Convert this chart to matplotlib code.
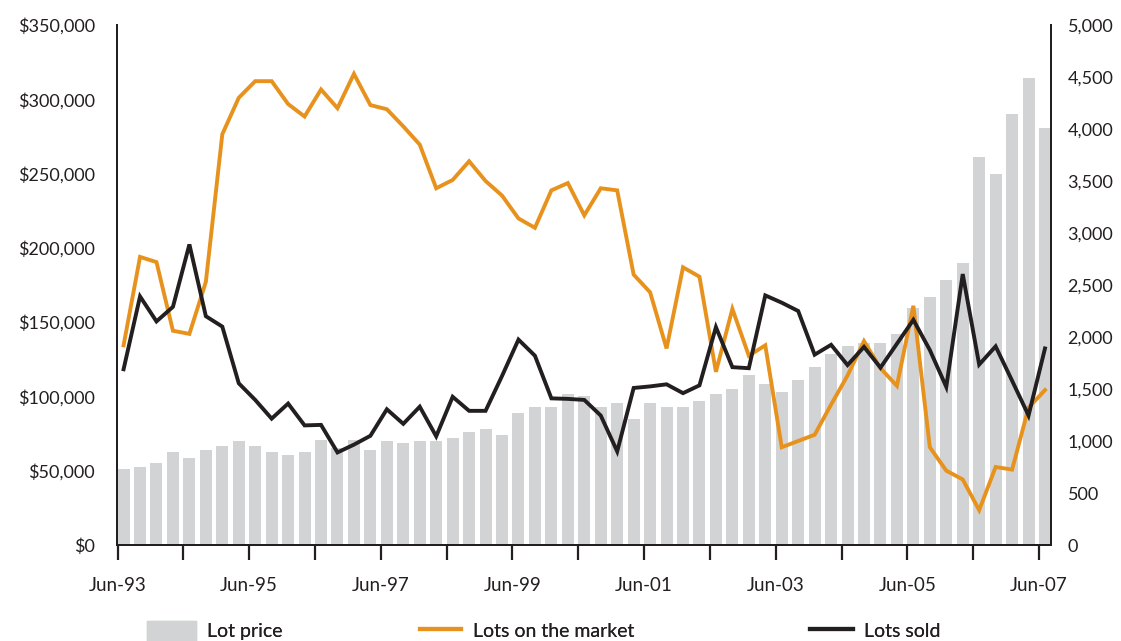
import numpy as np
from matplotlib import pyplot as plt
from matplotlib.patches import Patch
from matplotlib.lines import Line2D

# quarterly series, Jun-93 .. Jun-07 (57 quarters)
lot_price = [51000, 52500, 55000, 62500, 58500, 64000, 66800, 70100, 66800, 62600,
             60700, 62600, 70900, 65300, 70900, 64100, 70100, 68700, 70100, 70100,
             72100, 76200, 78400, 74300, 89000, 93100, 93100, 101400, 100600, 93100,
             95300, 85100, 95300, 93100, 93100, 97200, 101400, 104700, 114200, 108100,
             103300, 110800, 119500, 128400, 133800, 135900, 135900, 142000, 159600, 166900,
             178500, 190100, 261200, 249600, 290300, 314000, 280800]

lots_on_market = [1920, 2770, 2720, 2060, 2030, 2530, 3950, 4300, 4460, 4460,
                  4240, 4120, 4380, 4200, 4530, 4230, 4190, 4025, 3850, 3430,
                  3510, 3690, 3500, 3360, 3140, 3050, 3410, 3480, 3170, 3430,
                  3410, 2600, 2430, 1890, 2670, 2580, 1665, 2270, 1820, 1920,
                  940, 1000, 1060, 1350, 1630, 1960, 1700, 1530, 2300, 940,
                  715, 630, 335, 750, 725, 1320, 1490]

lots_sold = [1690, 2390, 2150, 2290, 2890, 2200, 2100, 1555, 1395, 1215,
             1360, 1150, 1155, 890, 965, 1050, 1305, 1165, 1330, 1045,
             1425, 1290, 1290, 1625, 1975, 1820, 1410, 1405, 1395, 1245,
             900, 1510, 1525, 1545, 1460, 1535, 2095, 1710, 1700, 2400,
             2330, 2250, 1830, 1925, 1730, 1905, 1705, 1935, 2165, 1875,
             1520, 2605, 1735, 1910, 1580, 1245, 1890]

year_labels = ['Jun-93', '', 'Jun-95', '', 'Jun-97', '', 'Jun-99', '', 'Jun-01', '',
               'Jun-03', '', 'Jun-05', '', 'Jun-07']

grey = '#d1d3d4'
orange = '#e8921e'
black = '#231f20'
txt = '#231f20'
plt.rcParams['font.family'] = ['Lato', 'DejaVu Sans']

fig = plt.figure(figsize=(11.21, 6.41), dpi=100)
ax = fig.add_axes([117 / 1121, 1 - 545 / 641, 934 / 1121, 520 / 641])
ax2 = ax.twinx()

x = np.arange(len(lot_price))
bw = 0.73
ax.bar(x, lot_price, width=bw, align='edge', color=grey, zorder=1)
ax2.plot(x + bw / 2, lots_on_market, color=orange, lw=2.8, solid_joinstyle='miter')
ax2.plot(x + bw / 2, lots_sold, color=black, lw=2.8, solid_joinstyle='miter')

ax.set_xlim(-0.035, 56.73)
ax.set_ylim(0, 350000)
ax2.set_ylim(0, 5000)

ax.set_yticks(np.arange(0, 350001, 50000))
ax.set_yticklabels(['${:,}'.format(v) for v in range(0, 350001, 50000)])
ax2.set_yticks(np.arange(0, 5001, 500))
ax2.set_yticklabels(['{:,}'.format(v) for v in range(0, 5001, 500)])
ax.tick_params(axis='y', length=0, pad=16, labelsize=13, labelcolor=txt)
ax2.tick_params(axis='y', length=0, pad=12, labelsize=13, labelcolor=txt)

ax.set_xticks(np.arange(0, 57, 4))
ax.set_xticklabels(year_labels)
ax.tick_params(axis='x', length=11, width=1.6, color=txt, pad=12,
               labelsize=13.5, labelcolor=txt)

for a in (ax, ax2):
    a.spines['top'].set_visible(False)
    for s in ('left', 'right', 'bottom'):
        a.spines[s].set_color(txt)
        a.spines[s].set_linewidth(1.4)

# legend, split in three so each entry sits where it does in the original
items = [
    (Patch(color=grey), 'Lot price', 147, 2.5),
    (Line2D([], [], color=orange, lw=3), 'Lots on the market', 420, 2.1),
    (Line2D([], [], color=black, lw=3), 'Lots sold', 810, 2.2),
]
for h, lab, px, hl in items:
    leg = fig.legend([h], [lab], loc='center left', bbox_to_anchor=(px / 1121, 0.016),
                     frameon=False, fontsize=14, handlelength=hl, handleheight=1.2,
                     handletextpad=0.6, borderpad=0, borderaxespad=0)
    for t in leg.get_texts():
        t.set_color(txt)
    fig.add_artist(leg)

fig.savefig('out.png', dpi=100)
